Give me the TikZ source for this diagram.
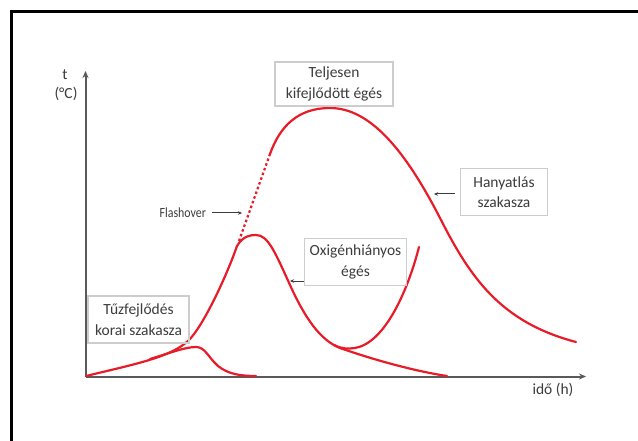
\documentclass[tikz,border=0pt]{standalone}
\usepackage{fontspec}
\setmainfont{Carlito}
\usetikzlibrary{arrows.meta}
\definecolor{curvered}{RGB}{232,28,40}
\definecolor{txtgray}{RGB}{60,60,60}
\definecolor{boxgray}{RGB}{205,205,205}
\definecolor{axisgray}{RGB}{90,90,90}
\tikzset{
  lbl/.style={font=\fontsize{15.5}{20.5}\selectfont, text=txtgray, align=center},
  lblbox/.style={lbl, draw=boxgray, line width=1.3pt, inner sep=0pt},
  redcurve/.style={draw=curvered, line width=2.2pt, line cap=round},
  axisline/.style={draw=axisgray, line width=2pt, -{Stealth[length=7pt,width=6pt]}},
  smallarrow/.style={draw=txtgray, line width=1pt, -{Stealth[length=4pt,width=3.5pt]}}
}
\begin{document}
\begin{tikzpicture}[x=1pt,y=-1pt]
\clip (0,0) rectangle (638,441);
\fill[white] (0,0) rectangle (638,441);
% frame
\draw[black, line width=3pt] (11,500) -- (11,11.5) -- (700,11.5);

% axes
\coordinate (O) at (85.5,376.5);
\coordinate (ytop) at (85.5,71);
\coordinate (xend) at (586,376.5);
\draw[axisline] (O) -- (ytop);
\draw[axisline] (O) -- (xend);
\node[lbl] (t) at (65,75) {t};
\node[lbl] (tc) at (66,94) {(°C)};
\node[lbl] (ido) at (553,390) {idő (h)};

% main rising part
\draw[redcurve] (86,376) .. controls (140,363) and (170,357) .. (188,341)
  .. controls (203,327) and (227,275) .. (237,246);
% flashover dotted
\draw[curvered, line width=2.2pt, dash pattern=on 2.5pt off 2.5pt] (239,241) -- (270,154);
% fully developed bell
\draw[redcurve] (270,154) .. controls (280,126) and (298,108) .. (330,108)
  .. controls (370,108) and (405,150) .. (440,218)
  .. controls (470,277) and (500,322) .. (576,342);
% oxygen-deficient bell
\draw[redcurve] (237,246) .. controls (243,236) and (250,235) .. (256,235)
  .. controls (268,235) and (275,252) .. (290,285)
  .. controls (305,318) and (320,340) .. (340,348)
  .. controls (380,362) and (420,372) .. (447,376);
% U curve
\draw[redcurve] (334,345) .. controls (342,349) and (348,349) .. (355,348)
  .. controls (385,343) and (408,290) .. (419,247);
% small bump
\draw[redcurve] (150,359) .. controls (170,353) and (185,347) .. (196,347)
  .. controls (205,347) and (208,357) .. (218,366)
  .. controls (228,374) and (240,376) .. (256,376);

% label boxes
\node[lblbox, minimum width=118pt, minimum height=44pt] (full) at (334,84) {Teljesen\\kifejlődött égés};
\node[lblbox, minimum width=87pt, minimum height=47pt] (decay) at (504,192) {Hanyatlás\\szakasza};
\node[lblbox, minimum width=102pt, minimum height=47pt] (oxy) at (355.5,262) {Oxigénhiányos\\égés};
\node[lblbox, minimum width=101pt, minimum height=47pt] (early) at (138.5,319.5) {Tűzfejlődés\\korai szakasza};

% flashover label
\node[font=\fontsize{14}{16}\selectfont, text=txtgray, xscale=0.85, anchor=east] (flash) at (209,213) {Flashover};
\coordinate (flashtip) at (242,213);
\draw[smallarrow] (flash.east) ++(3,0) -- (flashtip);

% arrows from boxes
\coordinate (decaytip) at (434,194);
\draw[smallarrow] (decay.west) ++(-5,2) -- (decaytip);
\coordinate (oxytip) at (290,281);
\draw[smallarrow] (oxy.west |- oxytip) -- (oxytip);
\end{tikzpicture}
\end{document}
